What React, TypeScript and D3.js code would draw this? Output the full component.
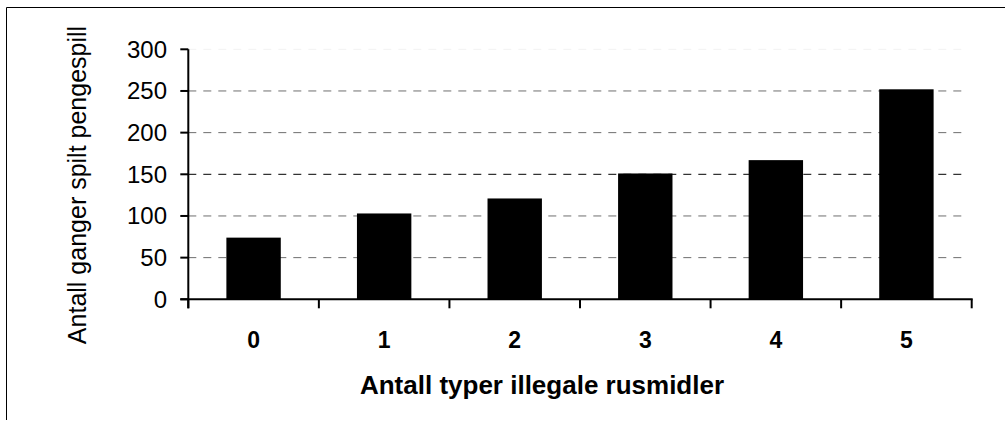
import React, { useEffect, useRef } from "react";
import * as d3 from "d3";

const categories: string[] = ["0", "1", "2", "3", "4", "5"];
const values: number[] = [74, 103, 121, 151, 167, 252];
const yTicks: number[] = [0, 50, 100, 150, 200, 250, 300];
const xTitle = "Antall typer illegale rusmidler";
const yTitle = "Antall ganger spilt pengespill";

const W = 1005;
const H = 427;
const FONT = "'Liberation Sans', Arial, sans-serif";

export default function App() {
  const ref = useRef<SVGSVGElement | null>(null);

  useEffect(() => {
    document.body.style.margin = "0";
    const svg = d3.select(ref.current);
    svg.selectAll("*").remove();

    const left = 188.3, right = 971.7, top = 49.3, bottom = 299.3;

    const x = d3
      .scaleBand<string>()
      .domain(categories)
      .range([left, right])
      .paddingInner(1.4 / 2.4)
      .paddingOuter(0.7 / 2.4);
    const step = (right - left) / categories.length;
    const y = d3.scaleLinear().domain([0, 300]).range([bottom, top]);

    // frame (top and left)
    svg.append("line").attr("x1", 6.5).attr("x2", W).attr("y1", 7.5).attr("y2", 7.5)
      .attr("stroke", "#000").attr("stroke-width", 1);
    svg.append("line").attr("x1", 6.5).attr("x2", 6.5).attr("y1", 7.5).attr("y2", 420)
      .attr("stroke", "#000").attr("stroke-width", 1);

    // gridlines
    svg.append("g").selectAll("line").data(yTicks.filter((t) => t > 0)).join("line")
      .attr("x1", left).attr("x2", right - 6)
      .attr("y1", (d) => y(d)).attr("y2", (d) => y(d))
      .attr("stroke", (d) => (d === 300 ? "#f2f2f2" : d === 150 ? "#000" : "#6e6e6e"))
      .attr("stroke-width", 1)
      .attr("stroke-dasharray", "8,7");

    // bars
    svg.append("g").selectAll("rect").data(values).join("rect")
      .attr("x", (_d, i) => x(categories[i]) as number)
      .attr("width", x.bandwidth())
      .attr("y", (d) => y(d))
      .attr("height", (d) => bottom - y(d))
      .attr("fill", "#000");

    // y axis
    svg.append("line").attr("x1", left).attr("x2", left).attr("y1", top).attr("y2", bottom + 9)
      .attr("stroke", "#000").attr("stroke-width", 2);
    svg.append("g").selectAll("line").data(yTicks).join("line")
      .attr("x1", left - 8).attr("x2", left)
      .attr("y1", (d) => y(d)).attr("y2", (d) => y(d))
      .attr("stroke", "#000").attr("stroke-width", 2);
    svg.append("g").selectAll("text").data(yTicks).join("text")
      .attr("x", 167).attr("y", (d) => y(d) + 8.5)
      .attr("text-anchor", "end")
      .attr("font-family", FONT).attr("font-size", 24)
      .text((d) => String(d));

    // x axis
    svg.append("line").attr("x1", left - 8).attr("x2", right + 1).attr("y1", bottom).attr("y2", bottom)
      .attr("stroke", "#000").attr("stroke-width", 2);
    const bounds = d3.range(categories.length + 1).map((i) => left + i * step);
    svg.append("g").selectAll("line").data(bounds).join("line")
      .attr("x1", (d) => d).attr("x2", (d) => d)
      .attr("y1", bottom).attr("y2", bottom + 9)
      .attr("stroke", "#000").attr("stroke-width", 2);
    svg.append("g").selectAll("text").data(categories).join("text")
      .attr("x", (d) => (x(d) as number) + x.bandwidth() / 2)
      .attr("y", 348)
      .attr("text-anchor", "middle")
      .attr("font-family", FONT).attr("font-size", 23).attr("font-weight", "bold")
      .text((d) => d);

    // titles
    svg.append("text")
      .attr("x", 542).attr("y", 394)
      .attr("text-anchor", "middle")
      .attr("font-family", FONT).attr("font-size", 26).attr("font-weight", "bold")
      .text(xTitle);
    svg.append("text")
      .attr("transform", "translate(86,185) rotate(-90)")
      .attr("text-anchor", "middle")
      .attr("font-family", FONT).attr("font-size", 25)
      .text(yTitle);
  }, []);

  return (
    <svg ref={ref} width={W} height={H} style={{ position: "absolute", left: 0, top: 0, background: "#fff" }} />
  );
}
